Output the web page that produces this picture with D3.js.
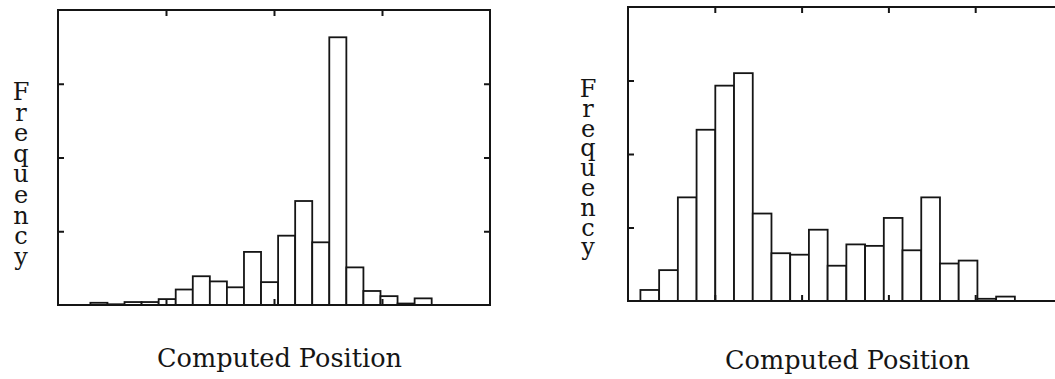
<!DOCTYPE html>
<html>
<head>
<meta charset="utf-8">
<script src="https://cdn.jsdelivr.net/npm/d3@7"></script>
<style>
  html, body { margin: 0; padding: 0; background: #fff; }
  svg { display: block; }
  .lbl { font-family: "DejaVu Serif", "Liberation Serif", serif; fill: #151515; }
</style>
</head>
<body>
<svg id="chart" width="1055" height="379"></svg>
<script>
// values (frequency, 10 per y tick)
const leftCounts = [0.3, 0.1, 0.4, 0.4, 0.8, 2.1, 3.9, 3.2, 2.4, 7.2, 3.1, 9.4, 14.1, 8.5, 36.3, 5.1, 1.9, 1.2, 0.2, 0.9];
const rightCounts = [1.5, 4.2, 14.1, 23.3, 29.3, 31.0, 11.9, 6.5, 6.3, 9.7, 4.8, 7.7, 7.5, 11.3, 6.9, 14.1, 5.1, 5.5, 0.3, 0.6];

// computed position, in x tick units
const leftBinStart = 0.3, leftBinWidth = 0.158;
const rightBinStart = 0.143, rightBinWidth = 0.2157;
const leftXTicks = [1, 2, 3];
const rightXTicks = [1, 2, 3, 4];
const yTicks = [10, 20, 30];
const yMax = 40;

const xLabel = "Computed Position";
const yLabel = "Frequency";

const svg = d3.select("#chart");
const ink = "#151515";

const panels = [
    { counts: leftCounts, start: leftBinStart, width: leftBinWidth, xTicks: leftXTicks, xMax: 4,
      x0: 58, x1: 490, y0: 10, y1: 305,
      yl: { x: 21, y: 100, step: 20.6 }, xl: { x: 157, y: 367 } },
    { counts: rightCounts, start: rightBinStart, width: rightBinWidth, xTicks: rightXTicks, xMax: 5,
      x0: 628, x1: 1062, y0: 7, y1: 301,
      yl: { x: 588, y: 97, step: 19.8 }, xl: { x: 725, y: 369 } }
];

panels.forEach(p => drawPanel(p));

function drawPanel(p) {
    const x = d3.scaleLinear().domain([0, p.xMax]).range([p.x0, p.x1]);
    const y = d3.scaleLinear().domain([0, yMax]).range([p.y1, p.y0]);
    const g = svg.append("g");

    const bins = p.counts.map((c, i) => ({ lo: p.start + i * p.width, hi: p.start + (i + 1) * p.width, c }));

    g.selectAll("rect.bar").data(bins).join("rect").attr("class", "bar")
        .attr("x", d => x(d.lo)).attr("width", d => x(d.hi) - x(d.lo))
        .attr("y", d => y(d.c)).attr("height", d => y(0) - y(d.c))
        .attr("fill", "#fff").attr("stroke", ink).attr("stroke-width", 1.8);

    // inward ticks on all four sides
    const tk = 6;
    const axes = [
        d3.axisTop(x).tickValues(p.xTicks).tickSize(-tk),
        d3.axisBottom(x).tickValues(p.xTicks).tickSize(-tk),
        d3.axisLeft(y).tickValues(yTicks).tickSize(-tk),
        d3.axisRight(y).tickValues(yTicks).tickSize(-tk)
    ];
    const pos = [`translate(0,${p.y0})`, `translate(0,${p.y1})`, `translate(${p.x0},0)`, `translate(${p.x1},0)`];
    axes.forEach((a, i) => {
        const ax = g.append("g").attr("transform", pos[i]).call(a.tickFormat(""));
        ax.select(".domain").remove();
        ax.selectAll("line").attr("stroke", ink).attr("stroke-width", 2);
    });

    g.append("rect").attr("x", p.x0).attr("y", p.y0)
        .attr("width", p.x1 - p.x0).attr("height", p.y1 - p.y0)
        .attr("fill", "none").attr("stroke", ink).attr("stroke-width", 2);

    // stacked letters, one text element
    g.append("text").attr("class", "lbl").attr("text-anchor", "middle").style("font-size", "24px")
        .selectAll("tspan").data(yLabel.split("")).join("tspan")
        .attr("x", p.yl.x).attr("y", (d, i) => p.yl.y + i * p.yl.step).text(d => d);

    g.append("text").attr("class", "lbl").attr("x", p.xl.x).attr("y", p.xl.y)
        .attr("textLength", 245).attr("lengthAdjust", "spacingAndGlyphs")
        .style("font-size", "25.5px").text(xLabel);
}
</script>
</body>
</html>
